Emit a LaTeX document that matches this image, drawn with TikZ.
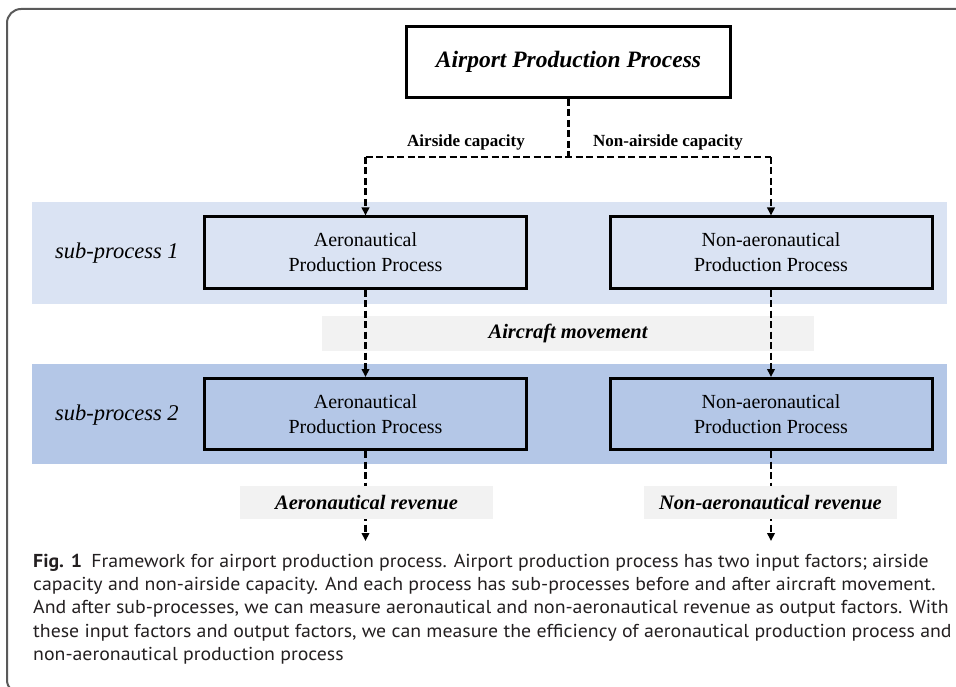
\documentclass[tikz,border=0pt]{standalone}
\usepackage{fontspec}
\setmainfont{Liberation Serif}
\newfontfamily\capfont[FakeStretch=1.06]{PT Sans}
\usetikzlibrary{arrows.meta}
\pgfdeclarelayer{bg}
\pgfsetlayers{bg,main}
\definecolor{bandA}{HTML}{DAE3F3}
\definecolor{bandB}{HTML}{B4C7E7}
\definecolor{lgray}{HTML}{F2F2F2}
\definecolor{framec}{HTML}{5A5A5A}
\definecolor{captext}{HTML}{231F20}
\tikzset{
  procbox/.style={draw=black, line width=3pt, minimum width=322pt, minimum height=71pt,
    inner sep=0pt, align=center, font=\fontsize{20}{25}\selectfont},
  link/.style={line width=2.5pt, dash pattern=on 7pt off 3.5pt},
  flow/.style={link, -{Triangle[length=8pt,width=7.5pt]}},
  tag/.style={fill=lgray, inner sep=0pt, font=\fontsize{20.5}{24}\selectfont\bfseries\itshape},
  band/.style={inner sep=0pt, minimum width=915pt},
  lbl/.style={inner sep=0pt, font=\fontsize{17}{20}\selectfont\bfseries},
  sublbl/.style={inner sep=0pt, font=\fontsize{22.5}{27}\selectfont\itshape},
  capline/.style={inner sep=0pt, anchor=base west, text=captext, font=\capfont\fontsize{18.7}{23}\selectfont},
}
\begin{document}
\begin{tikzpicture}[x=1pt,y=-1pt]
\useasboundingbox (0,0) rectangle (956,687);
\clip (0,0) rectangle (956,687);
% outer frame
\draw[framec, line width=2pt, rounded corners=14pt] (975,9) -- (7,9) -- (7,694) -- (975,694);

% bands
\begin{pgfonlayer}{bg}
\node[band, fill=bandA, minimum height=102pt] (band1) at (489.5,253) {};
\node[band, fill=bandB, minimum height=100pt] (band2) at (489.5,414) {};
\node[tag, minimum width=492pt, minimum height=35pt] (mv) at (568,333.5) {Aircraft movement};
\end{pgfonlayer}

% top box
\node[draw=black, line width=3pt, fill=white, minimum width=324pt, minimum height=71pt, inner sep=0pt,
  font=\fontsize{23.5}{28}\selectfont\bfseries\itshape] (top) at (568.5,62) {Airport Production Process};

% sub-process labels
\node[sublbl] (sp1) at (117,253) {sub-process 1};
\node[sublbl] (sp2) at (117,415) {sub-process 2};

% process boxes
\node[procbox] (A1) at (365.5,252.5) {Aeronautical\\Production Process};
\node[procbox] (N1) at (771,252.5) {Non-aeronautical\\Production Process};
\node[procbox] (A2) at (365.5,414) {Aeronautical\\Production Process};
\node[procbox] (N2) at (771,414) {Non-aeronautical\\Production Process};

% capacity split
\coordinate (J) at (568.5,157);
\coordinate (JL) at (A1.north |- J);
\coordinate (JR) at (N1.north |- J);
\draw[link] (top.south) -- (J);
\draw[link] (JL) -- (JR);
\draw[flow] (JL) -- (A1.north);
\draw[flow] (JR) -- (N1.north);
\node[lbl] (la) at (466,142) {Airside capacity};
\node[lbl] (lb) at (668,142) {Non-airside capacity};

% between sub-processes
\draw[flow] (A1.south) -- (A2.north);
\draw[flow] (N1.south) -- (N2.north);

% outputs
\coordinate (eA) at (A2.south |- 0,541);
\coordinate (eN) at (N2.south |- 0,541);
\draw[flow] (A2.south) -- (eA);
\draw[flow] (N2.south) -- (eN);
\node[tag, minimum width=253pt, minimum height=33pt] (rA) at (366.5,502.5) {Aeronautical revenue};
\node[tag, minimum width=253pt, minimum height=33pt] (rN) at (770.5,502.5) {Non-aeronautical revenue};

% caption
\node[capline] (c1) at (33,567) {\textbf{Fig. 1}\enspace Framework for airport production process. Airport production process has two input factors; airside};
\node[capline] (c2) at (33,590) {capacity and non-airside capacity. And each process has sub-processes before and after aircraft movement.};
\node[capline] (c3) at (33,613.5) {And after sub-processes, we can measure aeronautical and non-aeronautical revenue as output factors. With};
\node[capline] (c4) at (33,637) {these input factors and output factors, we can measure the efficiency of aeronautical production process and};
\node[capline] (c5) at (33,660) {non-aeronautical production process};
\end{tikzpicture}
\end{document}
